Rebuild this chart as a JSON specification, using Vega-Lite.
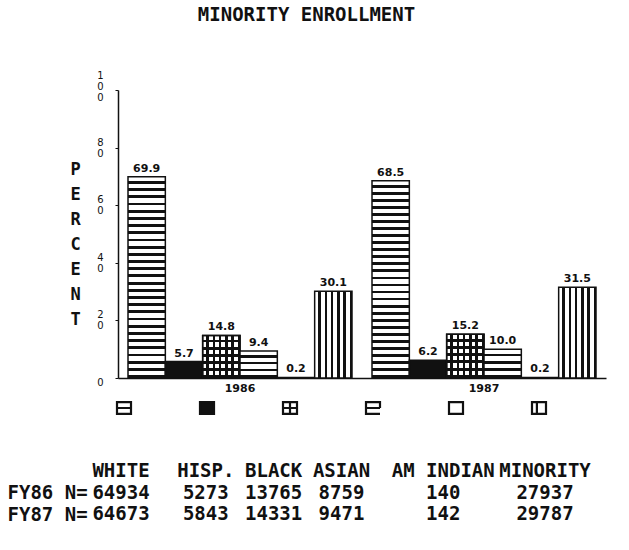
{
  "$schema": "https://vega.github.io/schema/vega-lite/v6.json",
  "padding": {"left": 7, "top": 6, "right": 5, "bottom": 5},
  "background": "white",
  "title": {"text": "MINORITY ENROLLMENT", "font": "DejaVu Sans Mono", "fontSize": 19, "fontWeight": "bold", "color": "#111", "anchor": "middle", "offset": 45},
  "data": {"values": [
    {"year": "1986", "fy": "FY86", "category": "WHITE", "pct": 69.9, "n": 64934},
    {"year": "1986", "fy": "FY86", "category": "HISP.", "pct": 5.7, "n": 5273},
    {"year": "1986", "fy": "FY86", "category": "BLACK", "pct": 14.8, "n": 13765},
    {"year": "1986", "fy": "FY86", "category": "ASIAN", "pct": 9.4, "n": 8759},
    {"year": "1986", "fy": "FY86", "category": "AM INDIAN", "pct": 0.2, "n": 140},
    {"year": "1986", "fy": "FY86", "category": "MINORITY", "pct": 30.1, "n": 27937},
    {"year": "1987", "fy": "FY87", "category": "WHITE", "pct": 68.5, "n": 64673},
    {"year": "1987", "fy": "FY87", "category": "HISP.", "pct": 6.2, "n": 5843},
    {"year": "1987", "fy": "FY87", "category": "BLACK", "pct": 15.2, "n": 14331},
    {"year": "1987", "fy": "FY87", "category": "ASIAN", "pct": 10.0, "n": 9471},
    {"year": "1987", "fy": "FY87", "category": "AM INDIAN", "pct": 0.2, "n": 142},
    {"year": "1987", "fy": "FY87", "category": "MINORITY", "pct": 31.5, "n": 29787}
  ]},
  "spacing": 4,
  "vconcat": [
    {
      "width": 488,
      "height": 288,
      "encoding": {
        "x": {"field": "year", "type": "nominal", "scale": {"paddingInner": 0.082, "paddingOuter": 0.041},
          "axis": {"title": null, "labelAngle": 0, "ticks": false, "labelPadding": 4, "labelFont": "DejaVu Sans", "labelFontWeight": "bold", "labelFontSize": 11, "labelColor": "#111", "domainColor": "#111", "domainWidth": 1.5}},
        "xOffset": {"field": "category", "type": "nominal", "scale": {"domain": ["WHITE", "HISP.", "BLACK", "ASIAN", "AM INDIAN", "MINORITY"], "paddingInner": 0, "paddingOuter": 0}},
        "y": {"field": "pct", "type": "quantitative", "scale": {"domain": [0, 100]},
          "axis": {"values": [0, 20, 40, 60, 80, 100], "labelExpr": "split(datum.label, '')", "labelAlign": "center", "labelBaseline": "middle", "labelLineHeight": 11, "labelPadding": 15, "tickSize": 3, "labelOverlap": false,
            "labelOffset": {"condition": [{"test": "datum.value === 100", "value": -15}, {"test": "datum.value === 0", "value": 4}], "value": -5.5},
            "labelFont": "DejaVu Sans", "labelFontWeight": "normal", "labelFontSize": 10, "labelColor": "#111", "domainColor": "#111", "domainWidth": 1.5, "tickColor": "#111", "grid": false,
            "title": ["P", "E", "R", "C", "E", "N", "T"], "titleAngle": 0, "titleX": -43, "titleY": 79, "titleAlign": "center", "titleBaseline": "middle", "titleLineHeight": 25, "titleFont": "DejaVu Sans Mono", "titleFontSize": 17, "titleFontWeight": "bold", "titleColor": "#111"}}
      },
      "layer": [
        {"transform": [{"filter": "datum.category === 'WHITE'"}],
         "mark": {"type": "bar", "stroke": "#111", "strokeWidth": 1.5, "fill": {"gradient": "linear", "x1": 0, "y1": 0, "x2": 0, "y2": 1, "stops": [
          {"offset": 0, "color": "#fff"}, {"offset": 0.0214, "color": "#fff"}, {"offset": 0.0214, "color": "#111"}, {"offset": 0.0357, "color": "#111"},
          {"offset": 0.0357, "color": "#fff"}, {"offset": 0.0571, "color": "#fff"}, {"offset": 0.0571, "color": "#111"}, {"offset": 0.0714, "color": "#111"},
          {"offset": 0.0714, "color": "#fff"}, {"offset": 0.0929, "color": "#fff"}, {"offset": 0.0929, "color": "#111"}, {"offset": 0.1071, "color": "#111"},
          {"offset": 0.1071, "color": "#fff"}, {"offset": 0.1286, "color": "#fff"}, {"offset": 0.1286, "color": "#111"}, {"offset": 0.1429, "color": "#111"},
          {"offset": 0.1429, "color": "#fff"}, {"offset": 0.1643, "color": "#fff"}, {"offset": 0.1643, "color": "#111"}, {"offset": 0.1786, "color": "#111"},
          {"offset": 0.1786, "color": "#fff"}, {"offset": 0.2, "color": "#fff"}, {"offset": 0.2, "color": "#111"}, {"offset": 0.2143, "color": "#111"},
          {"offset": 0.2143, "color": "#fff"}, {"offset": 0.2357, "color": "#fff"}, {"offset": 0.2357, "color": "#111"}, {"offset": 0.25, "color": "#111"},
          {"offset": 0.25, "color": "#fff"}, {"offset": 0.2714, "color": "#fff"}, {"offset": 0.2714, "color": "#111"}, {"offset": 0.2857, "color": "#111"},
          {"offset": 0.2857, "color": "#fff"}, {"offset": 0.3071, "color": "#fff"}, {"offset": 0.3071, "color": "#111"}, {"offset": 0.3214, "color": "#111"},
          {"offset": 0.3214, "color": "#fff"}, {"offset": 0.3429, "color": "#fff"}, {"offset": 0.3429, "color": "#111"}, {"offset": 0.3571, "color": "#111"},
          {"offset": 0.3571, "color": "#fff"}, {"offset": 0.3786, "color": "#fff"}, {"offset": 0.3786, "color": "#111"}, {"offset": 0.3929, "color": "#111"},
          {"offset": 0.3929, "color": "#fff"}, {"offset": 0.4143, "color": "#fff"}, {"offset": 0.4143, "color": "#111"}, {"offset": 0.4286, "color": "#111"},
          {"offset": 0.4286, "color": "#fff"}, {"offset": 0.45, "color": "#fff"}, {"offset": 0.45, "color": "#111"}, {"offset": 0.4643, "color": "#111"},
          {"offset": 0.4643, "color": "#fff"}, {"offset": 0.4857, "color": "#fff"}, {"offset": 0.4857, "color": "#111"}, {"offset": 0.5, "color": "#111"},
          {"offset": 0.5, "color": "#fff"}, {"offset": 0.5214, "color": "#fff"}, {"offset": 0.5214, "color": "#111"}, {"offset": 0.5357, "color": "#111"},
          {"offset": 0.5357, "color": "#fff"}, {"offset": 0.5571, "color": "#fff"}, {"offset": 0.5571, "color": "#111"}, {"offset": 0.5714, "color": "#111"},
          {"offset": 0.5714, "color": "#fff"}, {"offset": 0.5929, "color": "#fff"}, {"offset": 0.5929, "color": "#111"}, {"offset": 0.6071, "color": "#111"},
          {"offset": 0.6071, "color": "#fff"}, {"offset": 0.6286, "color": "#fff"}, {"offset": 0.6286, "color": "#111"}, {"offset": 0.6429, "color": "#111"},
          {"offset": 0.6429, "color": "#fff"}, {"offset": 0.6643, "color": "#fff"}, {"offset": 0.6643, "color": "#111"}, {"offset": 0.6786, "color": "#111"},
          {"offset": 0.6786, "color": "#fff"}, {"offset": 0.7, "color": "#fff"}, {"offset": 0.7, "color": "#111"}, {"offset": 0.7143, "color": "#111"},
          {"offset": 0.7143, "color": "#fff"}, {"offset": 0.7357, "color": "#fff"}, {"offset": 0.7357, "color": "#111"}, {"offset": 0.75, "color": "#111"},
          {"offset": 0.75, "color": "#fff"}, {"offset": 0.7714, "color": "#fff"}, {"offset": 0.7714, "color": "#111"}, {"offset": 0.7857, "color": "#111"},
          {"offset": 0.7857, "color": "#fff"}, {"offset": 0.8071, "color": "#fff"}, {"offset": 0.8071, "color": "#111"}, {"offset": 0.8214, "color": "#111"},
          {"offset": 0.8214, "color": "#fff"}, {"offset": 0.8429, "color": "#fff"}, {"offset": 0.8429, "color": "#111"}, {"offset": 0.8571, "color": "#111"},
          {"offset": 0.8571, "color": "#fff"}, {"offset": 0.8786, "color": "#fff"}, {"offset": 0.8786, "color": "#111"}, {"offset": 0.8929, "color": "#111"},
          {"offset": 0.8929, "color": "#fff"}, {"offset": 0.9143, "color": "#fff"}, {"offset": 0.9143, "color": "#111"}, {"offset": 0.9286, "color": "#111"},
          {"offset": 0.9286, "color": "#fff"}, {"offset": 0.95, "color": "#fff"}, {"offset": 0.95, "color": "#111"}, {"offset": 0.9643, "color": "#111"},
          {"offset": 0.9643, "color": "#fff"}, {"offset": 0.9857, "color": "#fff"}, {"offset": 0.9857, "color": "#111"}, {"offset": 1, "color": "#111"}
         ]}}},
        {"transform": [{"filter": "datum.category === 'HISP.'"}],
         "mark": {"type": "bar", "stroke": "#111", "strokeWidth": 1.5, "fill": "#111"}},
        {"transform": [{"filter": "datum.category === 'BLACK'"}],
         "mark": {"type": "bar", "stroke": "#111", "strokeWidth": 1.5, "fill": {"gradient": "linear", "x1": 0, "y1": 0, "x2": 0, "y2": 1, "stops": [
          {"offset": 0, "color": "#fff"}, {"offset": 0.1, "color": "#fff"}, {"offset": 0.1, "color": "#111"}, {"offset": 0.1667, "color": "#111"},
          {"offset": 0.1667, "color": "#fff"}, {"offset": 0.2667, "color": "#fff"}, {"offset": 0.2667, "color": "#111"}, {"offset": 0.3333, "color": "#111"},
          {"offset": 0.3333, "color": "#fff"}, {"offset": 0.4333, "color": "#fff"}, {"offset": 0.4333, "color": "#111"}, {"offset": 0.5, "color": "#111"},
          {"offset": 0.5, "color": "#fff"}, {"offset": 0.6, "color": "#fff"}, {"offset": 0.6, "color": "#111"}, {"offset": 0.6667, "color": "#111"},
          {"offset": 0.6667, "color": "#fff"}, {"offset": 0.7667, "color": "#fff"}, {"offset": 0.7667, "color": "#111"}, {"offset": 0.8333, "color": "#111"},
          {"offset": 0.8333, "color": "#fff"}, {"offset": 0.9333, "color": "#fff"}, {"offset": 0.9333, "color": "#111"}, {"offset": 1, "color": "#111"}
         ]}}},
        {"transform": [{"filter": "datum.category === 'BLACK'"}],
         "mark": {"type": "bar", "stroke": "#111", "strokeWidth": 1.5, "fill": {"gradient": "linear", "x1": 0, "y1": 0, "x2": 1, "y2": 0, "stops": [
          {"offset": 0, "color": "rgba(0,0,0,0)"}, {"offset": 0.1, "color": "rgba(0,0,0,0)"}, {"offset": 0.1, "color": "#111"}, {"offset": 0.1667, "color": "#111"},
          {"offset": 0.1667, "color": "rgba(0,0,0,0)"}, {"offset": 0.2667, "color": "rgba(0,0,0,0)"}, {"offset": 0.2667, "color": "#111"}, {"offset": 0.3333, "color": "#111"},
          {"offset": 0.3333, "color": "rgba(0,0,0,0)"}, {"offset": 0.4333, "color": "rgba(0,0,0,0)"}, {"offset": 0.4333, "color": "#111"}, {"offset": 0.5, "color": "#111"},
          {"offset": 0.5, "color": "rgba(0,0,0,0)"}, {"offset": 0.6, "color": "rgba(0,0,0,0)"}, {"offset": 0.6, "color": "#111"}, {"offset": 0.6667, "color": "#111"},
          {"offset": 0.6667, "color": "rgba(0,0,0,0)"}, {"offset": 0.7667, "color": "rgba(0,0,0,0)"}, {"offset": 0.7667, "color": "#111"}, {"offset": 0.8333, "color": "#111"},
          {"offset": 0.8333, "color": "rgba(0,0,0,0)"}, {"offset": 0.9333, "color": "rgba(0,0,0,0)"}, {"offset": 0.9333, "color": "#111"}, {"offset": 1, "color": "#111"}
         ]}}},
        {"transform": [{"filter": "datum.category === 'ASIAN'"}],
         "mark": {"type": "bar", "stroke": "#111", "strokeWidth": 1.5, "fill": {"gradient": "linear", "x1": 0, "y1": 0, "x2": 0, "y2": 1, "stops": [
          {"offset": 0, "color": "#fff"}, {"offset": 0.15, "color": "#fff"}, {"offset": 0.15, "color": "#111"}, {"offset": 0.25, "color": "#111"},
          {"offset": 0.25, "color": "#fff"}, {"offset": 0.4, "color": "#fff"}, {"offset": 0.4, "color": "#111"}, {"offset": 0.5, "color": "#111"},
          {"offset": 0.5, "color": "#fff"}, {"offset": 0.65, "color": "#fff"}, {"offset": 0.65, "color": "#111"}, {"offset": 0.75, "color": "#111"},
          {"offset": 0.75, "color": "#fff"}, {"offset": 0.9, "color": "#fff"}, {"offset": 0.9, "color": "#111"}, {"offset": 1, "color": "#111"}
         ]}}},
        {"transform": [{"filter": "datum.category === 'AM INDIAN'"}],
         "mark": {"type": "bar", "stroke": "#111", "strokeWidth": 1.5, "fill": "#fff"}},
        {"transform": [{"filter": "datum.category === 'MINORITY'"}],
         "mark": {"type": "bar", "stroke": "#111", "strokeWidth": 1.5, "fill": {"gradient": "linear", "x1": 0, "y1": 0, "x2": 1, "y2": 0, "stops": [
          {"offset": 0, "color": "#fff"}, {"offset": 0.1, "color": "#fff"}, {"offset": 0.1, "color": "#111"}, {"offset": 0.1667, "color": "#111"},
          {"offset": 0.1667, "color": "#fff"}, {"offset": 0.2667, "color": "#fff"}, {"offset": 0.2667, "color": "#111"}, {"offset": 0.3333, "color": "#111"},
          {"offset": 0.3333, "color": "#fff"}, {"offset": 0.4333, "color": "#fff"}, {"offset": 0.4333, "color": "#111"}, {"offset": 0.5, "color": "#111"},
          {"offset": 0.5, "color": "#fff"}, {"offset": 0.6, "color": "#fff"}, {"offset": 0.6, "color": "#111"}, {"offset": 0.6667, "color": "#111"},
          {"offset": 0.6667, "color": "#fff"}, {"offset": 0.7667, "color": "#fff"}, {"offset": 0.7667, "color": "#111"}, {"offset": 0.8333, "color": "#111"},
          {"offset": 0.8333, "color": "#fff"}, {"offset": 0.9333, "color": "#fff"}, {"offset": 0.9333, "color": "#111"}, {"offset": 1, "color": "#111"}
         ]}}},
        {"mark": {"type": "text", "baseline": "bottom", "dy": -3, "font": "DejaVu Sans", "fontSize": 11, "fontWeight": "bold", "color": "#111"},
         "encoding": {"text": {"field": "pct", "type": "quantitative", "format": ".1f"}}}
      ]
    },
    {
      "width": 488,
      "height": 57,
      "transform": [{"filter": "datum.year === '1986'"}],
      "mark": {"type": "point", "filled": true, "opacity": 1, "stroke": "#111", "strokeWidth": 2.2, "size": 196},
      "encoding": {
        "x": {"field": "category", "type": "nominal", "scale": {"domain": ["WHITE", "HISP.", "BLACK", "ASIAN", "AM INDIAN", "MINORITY"], "range": [6, 421], "padding": 0}, "axis": null},
        "y": {"datum": "icons", "type": "nominal", "scale": {"range": [7, 7]}, "axis": null},
        "shape": {"field": "category", "type": "nominal", "legend": null, "scale": {"domain": ["WHITE", "HISP.", "BLACK", "ASIAN", "AM INDIAN", "MINORITY"], "range": [
          "M-1,-0.85H1V0.85H-1Z M-1,0H1",
          "M-1,-0.85H1V0.85H-1Z",
          "M-1,-0.85H1V0.85H-1Z M-1,0H1 M0,-0.85V0.85",
          "M1,0V-0.85H-1V0.85H1 M-1,0H1",
          "M-1,-0.85H1V0.85H-1Z",
          "M-1,-0.85H1V0.85H-1Z M-0.3,-0.85V0.85"
        ]}},
        "fill": {"field": "category", "type": "nominal", "legend": null, "scale": {"domain": ["WHITE", "HISP.", "BLACK", "ASIAN", "AM INDIAN", "MINORITY"], "range": ["#fff", "#111", "#fff", "#fff", "#fff", "#fff"]}}
      }
    },
    {
      "width": 488,
      "height": 43,
      "layer": [
        {"transform": [{"filter": "datum.year === '1986'"}],
         "mark": {"type": "text", "font": "DejaVu Sans Mono", "fontSize": 19, "fontWeight": "bold", "color": "#111", "baseline": "middle"},
         "encoding": {
           "x": {"field": "category", "type": "nominal", "axis": null, "scale": {"type": "point", "padding": 0, "range": [3, 427], "domain": ["WHITE", "s1", "s2", "s3", "s4", "HISP.", "s6", "s7", "s8", "BLACK", "s10", "s11", "s12", "ASIAN", "s14", "s15", "s16", "s17", "s18", "AM INDIAN", "s20", "s21", "s22", "s23", "s24", "MINORITY"]}},
           "y": {"datum": "header", "type": "nominal", "scale": {"type": "point", "padding": 0, "domain": ["header", "FY86", "FY87"]},
             "axis": {"title": null, "domain": false, "ticks": false, "tickSize": 0, "grid": false, "labelAlign": "left", "labelBaseline": "middle", "labelPadding": 111, "labelFont": "DejaVu Sans Mono", "labelFontSize": 19, "labelFontWeight": "bold", "labelColor": "#111", "labelExpr": "datum.value === 'header' ? '' : datum.value + ' N='"}},
           "text": {"field": "category", "type": "nominal"}
         }},
        {"mark": {"type": "text", "font": "DejaVu Sans Mono", "fontSize": 19, "fontWeight": "bold", "color": "#111", "baseline": "middle"},
         "encoding": {
           "x": {"field": "category", "type": "nominal", "axis": null, "scale": {"type": "point", "padding": 0, "range": [3, 427], "domain": ["WHITE", "s1", "s2", "s3", "s4", "HISP.", "s6", "s7", "s8", "BLACK", "s10", "s11", "s12", "ASIAN", "s14", "s15", "s16", "s17", "s18", "AM INDIAN", "s20", "s21", "s22", "s23", "s24", "MINORITY"]}},
           "y": {"field": "fy", "type": "nominal", "scale": {"type": "point", "padding": 0, "domain": ["header", "FY86", "FY87"]},
             "axis": {"title": null, "domain": false, "ticks": false, "tickSize": 0, "grid": false, "labelAlign": "left", "labelBaseline": "middle", "labelPadding": 111, "labelFont": "DejaVu Sans Mono", "labelFontSize": 19, "labelFontWeight": "bold", "labelColor": "#111", "labelExpr": "datum.value === 'header' ? '' : datum.value + ' N='"}},
           "text": {"field": "n", "type": "quantitative", "format": "d"}
         }}
      ]
    }
  ],
  "config": {"view": {"stroke": null}}
}
